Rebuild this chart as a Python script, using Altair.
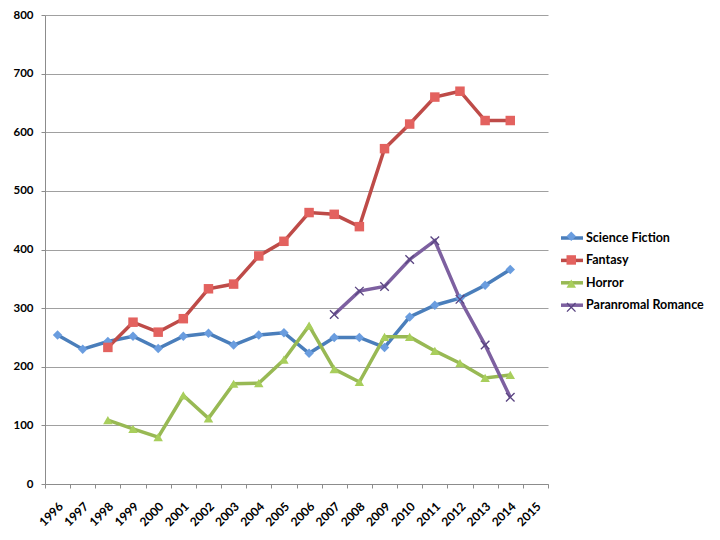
import altair as alt
import pandas as pd

years = [str(y) for y in range(1996, 2016)]
series_names = ["Science Fiction", "Fantasy", "Horror", "Paranromal Romance"]

scifi_years = list(range(1996, 2015))
scifi = [254, 230, 243, 252, 231, 252, 257, 237, 254, 258, 223, 250, 250, 233, 285, 305, 317, 339, 366]
fantasy_years = list(range(1998, 2015))
fantasy = [233, 276, 259, 282, 333, 341, 389, 414, 463, 460, 439, 572, 614, 660, 670, 620, 620]
horror_years = list(range(1998, 2015))
horror = [109, 94, 80, 151, 112, 171, 172, 212, 270, 196, 174, 251, 251, 227, 206, 181, 186]
para_years = list(range(2007, 2015))
para = [289, 329, 337, 383, 415, 315, 237, 148]

y_ticks = list(range(0, 801, 100))

rows = []
for i, (name, yrs, vals) in enumerate([(series_names[0], scifi_years, scifi),
                                       (series_names[1], fantasy_years, fantasy),
                                       (series_names[2], horror_years, horror),
                                       (series_names[3], para_years, para)]):
    for yr, v in zip(yrs, vals):
        rows.append({"year": str(yr), "value": v, "series": name, "series2": name, "order": i})
df = pd.DataFrame(rows)

line_colors = ["#4A7EBB", "#BE4B48", "#98B954", "#7D60A0"]
fill_colors = ["#6A9DDF", "#E3625F", "#A8CE5C", "#5A4582"]
x_shape = "M-1,-0.8L-0.8,-1L0,-0.2L0.8,-1L1,-0.8L0.2,0L1,0.8L0.8,1L0,0.2L-0.8,1L-1,0.8L-0.2,0Z"
shapes = ["diamond", "square", "triangle-up", x_shape]

font = "Lato"
axis_col = "#8c8c8c"

x = alt.X("year:O",
          scale=alt.Scale(type="band", domain=years, paddingInner=0, paddingOuter=0),
          axis=alt.Axis(title=None, tickBand="extent", labelAngle=315, labelAlign="right",
                        labelBaseline="middle", labelPadding=16, labelOffset=3, grid=False,
                        tickSize=4, domainColor=axis_col, tickColor=axis_col,
                        labelFont=font, labelFontWeight="bold", labelFontSize=12,
                        labelColor="black"))
y = alt.Y("value:Q",
          scale=alt.Scale(domain=[0, 800], nice=False),
          axis=alt.Axis(title=None, values=y_ticks, grid=True, gridColor="#a0a0a0",
                        tickSize=4, labelPadding=8, domainColor=axis_col, tickColor=axis_col,
                        labelFont=font, labelFontWeight="bold", labelFontSize=11.5,
                        labelColor="black"))

legA = alt.Legend(title=None, orient="none", legendX=514, legendY=210, symbolType="stroke",
                  symbolSize=484, symbolStrokeWidth=3.5, labelFont=font, labelFontWeight="bold",
                  labelFontSize=12.5, labelColor="black", labelOffset=1, rowPadding=2.4)
legB = alt.Legend(title=None, orient="none", legendX=520, legendY=215, symbolSize=90,
                  symbolStrokeWidth=0, labelFont=font, labelFontWeight="bold",
                  labelFontSize=12.5, labelOpacity=0, labelOffset=1, rowPadding=10.7)

lines = alt.Chart(df).mark_line(strokeWidth=3.5).encode(
    x=x, y=y,
    stroke=alt.Stroke("series:N", scale=alt.Scale(domain=series_names, range=line_colors), legend=legA),
)

sort_def = alt.EncodingSortField(field="order", op="min")
points = alt.Chart(df).mark_point(filled=True, size=90, opacity=1).encode(
    x=x, y=y,
    color=alt.Color("series2:N", sort=sort_def, scale=alt.Scale(range=fill_colors), legend=legB),
    shape=alt.Shape("series2:N", sort=sort_def, scale=alt.Scale(range=shapes), legend=legB),
)

chart = alt.layer(lines, points).properties(
    width=503, height=469,
    autosize=alt.AutoSizeParams(type="none"),
    padding={"left": 37, "top": 7, "right": 164, "bottom": 48},
    background="white",
).configure_view(strokeWidth=0)

chart.save("out.html", embed_options={"renderer": "svg", "actions": False})
